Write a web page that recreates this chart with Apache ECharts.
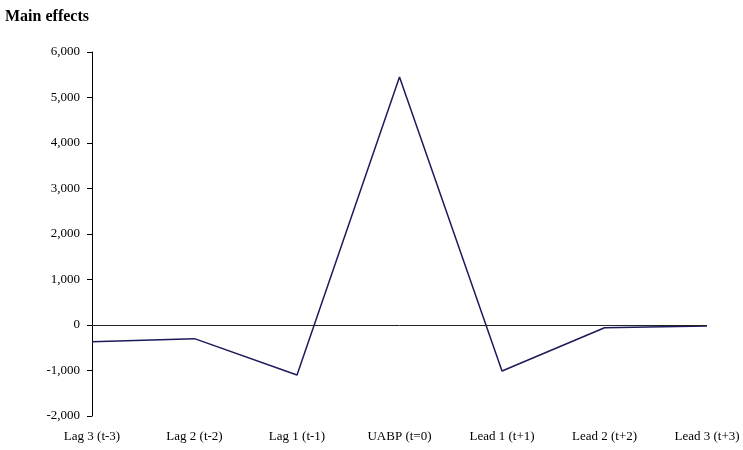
<!DOCTYPE html>
<html>
<head>
<meta charset="utf-8">
<script src="https://cdn.jsdelivr.net/npm/echarts@6/dist/echarts.min.js"></script>
<style>
  html, body { margin: 0; padding: 0; background: #fff; }
  #chart { width: 743px; height: 450px; }
</style>
</head>
<body>
<div id="chart"></div>
<script>
const categories = ["Lag 3 (t-3)", "Lag 2 (t-2)", "Lag 1 (t-1)", "UABP (t=0)", "Lead 1 (t+1)", "Lead 2 (t+2)", "Lead 3 (t+3)"];
const mainEffects = [-370, -300, -1100, 5450, -1010, -60, -20];
const yTicks = [-2000, 6000, 1000]; // min, max, interval

const FONT = "'Liberation Serif', 'Times New Roman', serif";
const chart = echarts.init(document.getElementById("chart"));

chart.setOption({
  animation: false,
  title: {
    text: "Main effects",
    left: 0,
    top: 4,
    textStyle: { fontFamily: FONT, fontSize: 16, fontWeight: "bold", color: "#000" }
  },
  grid: { left: 92, right: 36, top: 52, bottom: 34 },
  xAxis: {
    type: "category",
    data: categories,
    boundaryGap: false,
    axisLine: { show: false },
    axisTick: { show: false },
    axisLabel: { fontFamily: FONT, fontSize: 13, color: "#000", margin: 14 }
  },
  yAxis: {
    type: "value",
    min: yTicks[0],
    max: yTicks[1],
    interval: yTicks[2],
    axisLine: { show: true, lineStyle: { color: "#000", width: 1 } },
    axisTick: { show: true, length: 5, lineStyle: { color: "#000" } },
    splitLine: { show: false },
    axisLabel: {
      fontFamily: FONT, fontSize: 13, color: "#000", margin: 12,
      formatter: (v) => v.toLocaleString("en-US")
    }
  },
  series: [{
    type: "line",
    data: mainEffects,
    symbol: "none",
    lineStyle: { color: "#1c1a5c", width: 1.5 },
    markLine: {
      silent: true,
      symbol: "none",
      label: { show: false },
      lineStyle: { color: "#222", width: 1, type: "solid" },
      data: [{ yAxis: 0 }]
    }
  }]
});
</script>
</body>
</html>
